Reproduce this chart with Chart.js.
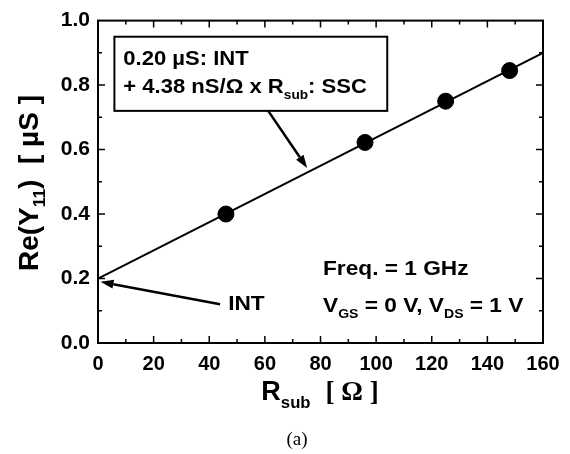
<!DOCTYPE html>
<html>
<head>
<meta charset="utf-8">
<script src="https://cdn.jsdelivr.net/npm/chart.js@4"></script>
<style>
  body { margin: 0; background: #fff; }
</style>
</head>
<body>
<canvas id="resChart" width="570" height="454"></canvas>
<script>
// measured points
const rsub = [46, 96, 125, 148];
const reY11 = [0.40, 0.622, 0.75, 0.845];
// fit line end points (0.20 uS + 4.38 nS/ohm * Rsub)
const fitX = [0, 160];
const fitY = [0.20, 0.90];
const xTicks = [0, 20, 40, 60, 80, 100, 120, 140, 160];
const yTicks = [0.0, 0.2, 0.4, 0.6, 0.8, 1.0];

const SANS = '"Liberation Sans", Arial, sans-serif';
const SERIF = '"Liberation Serif", "Times New Roman", serif';

// draw text made of parts, some of them subscripts
function richText(ctx, parts, x, y, size, align, sx) {
    sx = sx || 1;
    let w = 0;
    parts.forEach(p => {
        ctx.font = 'bold ' + (p.sub ? size * 0.62 : size) + 'px ' + (p.serif ? SERIF : SANS);
        p.w = ctx.measureText(p.t).width;
        w += p.w;
    });
    ctx.save();
    ctx.translate(x, y);
    ctx.scale(sx, 1);
    let cx = align === 'center' ? -w / 2 : 0;
    ctx.textBaseline = 'middle';
    ctx.textAlign = 'left';
    parts.forEach(p => {
        ctx.font = 'bold ' + (p.sub ? size * 0.62 : size) + 'px ' + (p.serif ? SERIF : SANS);
        ctx.fillText(p.t, cx, p.sub ? size * 0.38 : 0);
        cx += p.w;
    });
    ctx.restore();
}

function arrow(ctx, x1, y1, x2, y2) {
    const ang = Math.atan2(y2 - y1, x2 - x1);
    const hl = 13, hw = 4.5;
    const bx = x2 - hl * Math.cos(ang), by = y2 - hl * Math.sin(ang);
    ctx.lineWidth = 2.5;
    ctx.beginPath();
    ctx.moveTo(x1, y1);
    ctx.lineTo(bx, by);
    ctx.stroke();
    ctx.beginPath();
    ctx.moveTo(x2, y2);
    ctx.lineTo(bx + hw * Math.sin(ang), by - hw * Math.cos(ang));
    ctx.lineTo(bx - hw * Math.sin(ang), by + hw * Math.cos(ang));
    ctx.closePath();
    ctx.fill();
}

const decor = {
    id: 'decor',
    afterDraw(chart) {
        const {ctx, chartArea: a, scales: {x, y}} = chart;
        const px = v => x.getPixelForValue(v), py = v => y.getPixelForValue(v);
        ctx.save();
        ctx.strokeStyle = '#000';
        ctx.fillStyle = '#000';

        // frame + inward ticks
        ctx.lineWidth = 2;
        ctx.strokeRect(a.left, a.top, a.right - a.left, a.bottom - a.top);
        ctx.lineWidth = 1.5;
        ctx.beginPath();
        for (let v = 10; v < 160; v += 10) {
            const len = v % 20 ? 4 : 7;
            ctx.moveTo(px(v), a.bottom); ctx.lineTo(px(v), a.bottom - len);
            ctx.moveTo(px(v), a.top); ctx.lineTo(px(v), a.top + len);
        }
        for (let i = 1; i < 10; i++) {
            const len = i % 2 ? 4 : 7;
            ctx.moveTo(a.left, py(i / 10)); ctx.lineTo(a.left + len, py(i / 10));
            ctx.moveTo(a.right, py(i / 10)); ctx.lineTo(a.right - len, py(i / 10));
        }
        ctx.stroke();

        // equation box
        ctx.lineWidth = 2;
        ctx.fillStyle = '#fff';
        ctx.fillRect(px(5.9), py(0.95), px(104) - px(5.9), py(0.72) - py(0.95));
        ctx.strokeRect(px(5.9), py(0.95), px(104) - px(5.9), py(0.72) - py(0.95));
        ctx.fillStyle = '#000';
        richText(ctx, [{t: '0.20 \u00b5S: INT'}], px(9.1), py(0.88), 21, 'left', 1.05);
        richText(ctx, [{t: '+ 4.38 nS/\u03a9 x R'}, {t: 'sub', sub: true}, {t: ': SSC'}], px(9.1), py(0.792), 21, 'left', 1.05);

        // arrows
        arrow(ctx, px(61.2), py(0.72), px(75.2), py(0.543));
        arrow(ctx, px(43.9), py(0.12), px(0.9), py(0.19));

        // labels in the plot
        richText(ctx, [{t: 'INT'}], px(46.8), py(0.12), 21, 'left', 1.08);
        richText(ctx, [{t: 'Freq. = 1 GHz'}], px(80.9), py(0.23), 21, 'left', 1.08);
        richText(ctx, [{t: 'V'}, {t: 'GS', sub: true}, {t: ' = 0 V, V'}, {t: 'DS', sub: true}, {t: ' = 1 V'}], px(80.9), py(0.113), 21, 'left', 1.08);

        // axis titles
        richText(ctx, [{t: 'R'}, {t: 'sub', sub: true}, {t: '  '}, {t: '[ \u03a9 ]', serif: true}], 320, 393, 27, 'center');
        ctx.save();
        ctx.translate(30, 183);
        ctx.rotate(-Math.PI / 2);
        richText(ctx, [{t: 'Re(Y'}, {t: '11', sub: true}, {t: ')  [ \u00b5S ]'}], 0, 0, 28, 'center');
        ctx.restore();

        // caption
        ctx.font = '19px ' + SERIF;
        ctx.textAlign = 'center';
        ctx.textBaseline = 'middle';
        ctx.fillText('(a)', 297, 440);
        ctx.restore();
    }
};

const ctx = document.getElementById('resChart').getContext('2d');
new Chart(ctx, {
    type: 'scatter',
    data: {
        datasets: [{
            data: rsub.map((v, i) => ({x: v, y: reY11[i]})),
            backgroundColor: '#000',
            borderColor: '#000',
            pointRadius: 8,
            pointHoverRadius: 8
        }, {
            data: fitX.map((v, i) => ({x: v, y: fitY[i]})),
            showLine: true,
            borderColor: '#000',
            borderWidth: 2,
            pointRadius: 0
        }]
    },
    options: {
        responsive: false,
        animation: false,
        events: [],
        layout: {padding: {left: 0, right: 27, top: 17, bottom: 0}},
        plugins: {legend: {display: false}, tooltip: {enabled: false}},
        scales: {
            x: {
                type: 'linear', min: 0, max: 160,
                afterBuildTicks: s => { s.ticks = xTicks.map(v => ({value: v})); },
                afterFit: s => { s.height = 111; },
                grid: {display: false, drawTicks: false},
                border: {display: false},
                ticks: {color: '#000', padding: 9, maxRotation: 0,
                        font: {family: SANS, size: 20, weight: 'bold'}}
            },
            y: {
                type: 'linear', min: 0, max: 1,
                afterBuildTicks: s => { s.ticks = yTicks.map(v => ({value: v})); },
                afterFit: s => { s.width = 98; },
                grid: {display: false, drawTicks: false},
                border: {display: false},
                ticks: {color: '#000', padding: 8, callback: v => v.toFixed(1),
                        font: {family: SANS, size: 21, weight: 'bold'}}
            }
        }
    },
    plugins: [decor]
});
</script>
</body>
</html>
